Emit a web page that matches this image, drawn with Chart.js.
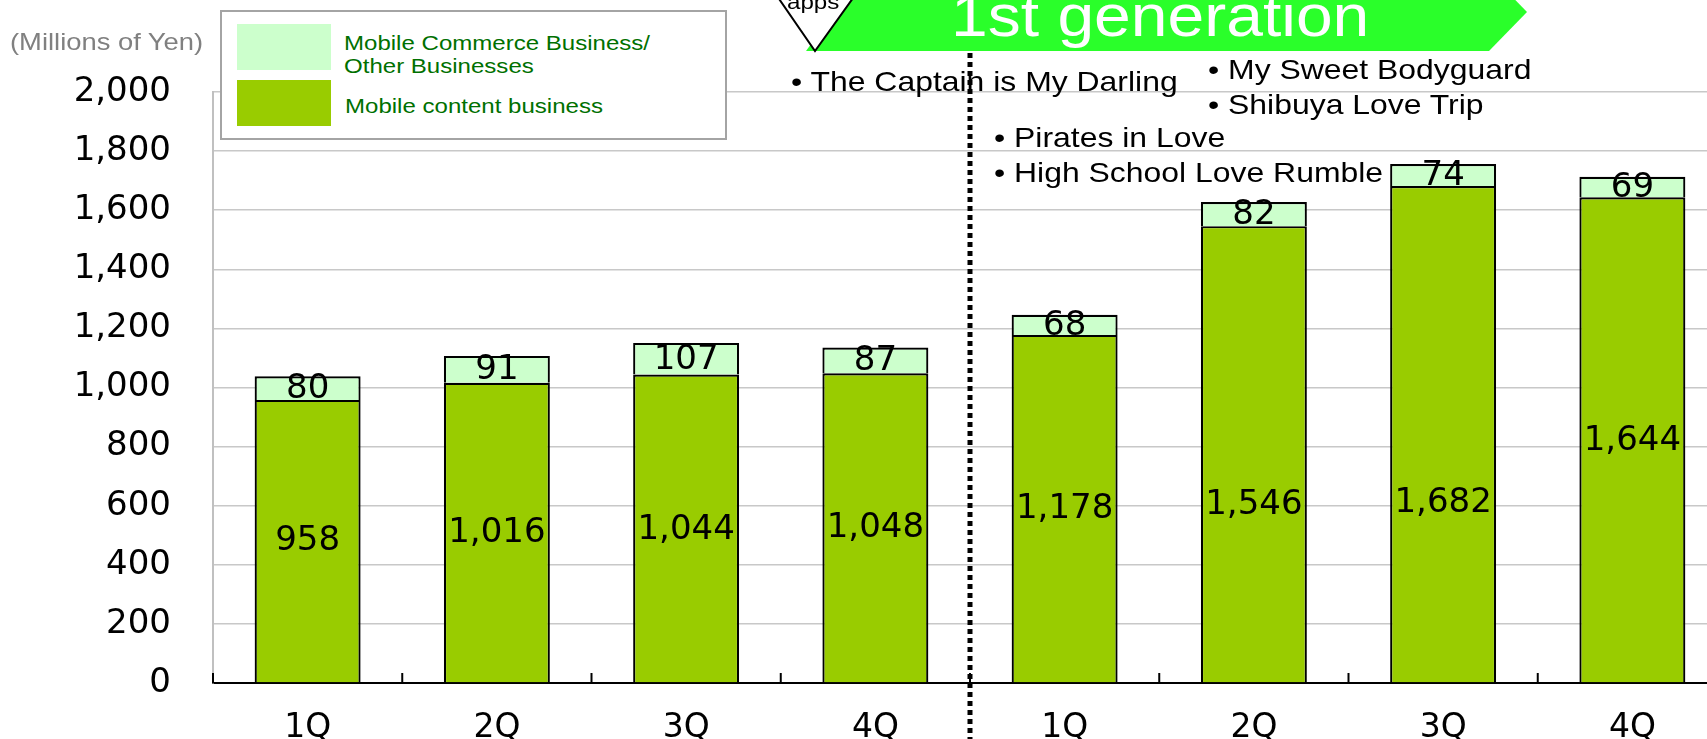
<!DOCTYPE html>
<html><head><meta charset="utf-8">
<script src="https://cdn.jsdelivr.net/npm/chart.js@4.4.0/dist/chart.umd.min.js"></script>
<style>
html,body{margin:0;padding:0;width:1707px;height:739px;overflow:hidden;background:#fff;}
#wrap{position:relative;width:1707px;height:739px;overflow:hidden;}
#c{position:absolute;left:0;top:0;z-index:1;}
#banner{position:absolute;left:0;top:0;z-index:2;}
.t{position:absolute;white-space:nowrap;font-family:'Liberation Sans',Arial,sans-serif;transform-origin:0 0;line-height:1;z-index:5;}
#legend{position:absolute;left:220px;top:10px;width:507px;height:130px;box-sizing:border-box;border:2px solid #a4a4a4;background:#fff;z-index:3;}
.sw{position:absolute;left:15px;width:94px;}
</style></head>
<body><div id="wrap">
<canvas id="c" width="1800" height="739"></canvas>
<svg id="banner" width="1707" height="60" viewBox="0 0 1707 60">
  <polygon points="806,51 862,-26 1490,-26 1527,12 1489,51" fill="#2aff2a"/>
  <polygon points="766,-20 866,-20 815,51" fill="#fff" stroke="#000" stroke-width="2"/>
</svg>
<div class="t" style="left:787px;top:-9px;font-size:21px;color:#000;transform:scaleX(1.15);">apps</div>
<div class="t" style="left:951px;top:-14px;font-size:60px;color:#fff;transform:scaleX(1.1);">1st generation</div>
<div class="t" style="left:10px;top:30px;font-size:24px;color:#808080;transform:scaleX(1.14);">(Millions of Yen)</div>
<div id="legend"></div>
<div class="t" style="left:791px;top:68px;font-size:28px;color:#000;transform:scaleX(1.14);">• The Captain is My Darling</div>
<div class="t" style="left:1208px;top:56px;font-size:28px;color:#000;transform:scaleX(1.14);">• My Sweet Bodyguard</div>
<div class="t" style="left:1208px;top:91px;font-size:28px;color:#000;transform:scaleX(1.14);">• Shibuya Love Trip</div>
<div class="t" style="left:994px;top:124px;font-size:28px;color:#000;transform:scaleX(1.14);">• Pirates in Love</div>
<div class="t" style="left:994px;top:159px;font-size:28px;color:#000;transform:scaleX(1.14);">• High School Love Rumble</div>
</div>
<script>
const categories = ['1Q','2Q','3Q','4Q','1Q','2Q','3Q','4Q'];
const mobileContent = [958,1016,1044,1048,1178,1546,1682,1644];
const mobileCommerce = [80,91,107,87,68,82,74,69];
const yTicks = [0,200,400,600,800,1000,1200,1400,1600,1800,2000];
// value (in yen axis units) at which each mobile-content label sits in the picture
const contentLabelAt = [484,510,521,528,592,606,613,823];
const seriesNames = ['Mobile content business', 'Mobile Commerce Business/\nOther Businesses'];
const seriesColors = ['#99cc00', '#ccffcc'];

Chart.defaults.font.family = "'DejaVu Sans', sans-serif";

(function(){
  const lg = document.getElementById('legend');
  const rows = [
    {name: seriesNames[1], color: seriesColors[1], top: 12, h: 46, textTops: [20, 43], left: 122},
    {name: seriesNames[0], color: seriesColors[0], top: 68, h: 46, textTops: [83], left: 123}
  ];
  rows.forEach(r => {
    const sw = document.createElement('div');
    sw.className = 'sw';
    sw.style.top = r.top + 'px'; sw.style.height = r.h + 'px'; sw.style.background = r.color;
    lg.appendChild(sw);
    r.name.split('\n').forEach((line, i) => {
      const d = document.createElement('div');
      d.className = 't';
      d.textContent = line;
      d.style.left = r.left + 'px';
      d.style.top = r.textTops[i] + 'px';
      d.style.fontSize = '21px';
      d.style.color = '#007000';
      d.style.transform = 'scaleX(1.145)';
      lg.appendChild(d);
    });
  });
})();

const fmt = v => Number(v).toLocaleString('en-US');

const valueLabels = {
  id: 'valueLabels',
  afterDatasetsDraw(chart) {
    const ctx = chart.ctx;
    const ys = chart.scales.y;
    ctx.save();
    ctx.font = "34px 'DejaVu Sans', sans-serif";
    ctx.fillStyle = '#000';
    ctx.textAlign = 'center';
    ctx.textBaseline = 'middle';
    chart.data.datasets.forEach((ds, di) => {
      const meta = chart.getDatasetMeta(di);
      meta.data.forEach((el, i) => {
        const y = di === 0 ? ys.getPixelForValue(contentLabelAt[i]) : (el.y + el.base) / 2;
        ctx.fillText(fmt(ds.data[i]), el.x, y + 1);
      });
    });
    ctx.restore();
  }
};

const axisDecor = {
  id: 'axisDecor',
  afterDraw(chart) {
    const ctx = chart.ctx;
    const xs = chart.scales.x;
    const bottom = chart.chartArea.bottom;
    const w = xs.getPixelForValue(1) - xs.getPixelForValue(0);
    ctx.save();
    ctx.strokeStyle = '#000';
    ctx.lineWidth = 2;
    for (let i = 0; i <= categories.length; i++) {
      const x = xs.getPixelForValue(i) - w / 2;
      ctx.beginPath();
      ctx.moveTo(x, bottom - 10);
      ctx.lineTo(x, bottom);
      ctx.stroke();
    }
    const xd = xs.getPixelForValue(4) - w / 2;
    ctx.lineWidth = 5;
    ctx.setLineDash([5, 4]);
    ctx.beginPath();
    ctx.moveTo(xd, 53);
    ctx.lineTo(xd, chart.height);
    ctx.stroke();
    ctx.restore();
  }
};

new Chart(document.getElementById('c'), {
  type: 'bar',
  data: {
    labels: categories,
    datasets: [
      {label: seriesNames[0], data: mobileContent, backgroundColor: seriesColors[0], borderColor: '#000', borderWidth: 2.2, stack: 's'},
      {label: seriesNames[1], data: mobileCommerce, backgroundColor: seriesColors[1], borderColor: '#000', borderWidth: 2.2, stack: 's'}
    ]
  },
  options: {
    responsive: false,
    animation: false,
    layout: {padding: {left: 0, right: 73, top: 92, bottom: 0}},
    datasets: {bar: {barPercentage: 0.56, categoryPercentage: 1}},
    plugins: {legend: {display: false}, tooltip: {enabled: false}},
    scales: {
      x: {
        stacked: true,
        grid: {drawOnChartArea: false, drawTicks: false},
        border: {display: true, color: '#000', width: 2},
        ticks: {padding: 26, font: {size: 33}, color: '#000', maxRotation: 0, autoSkip: false},
        afterFit(s) { s.height = 56; }
      },
      y: {
        stacked: true,
        min: 0, max: 2000,
        afterBuildTicks(s) { s.ticks = yTicks.map(v => ({value: v})); },
        grid: {color: c => (c.tick && c.tick.value === 0) ? 'rgba(0,0,0,0)' : '#c8c8c8', lineWidth: 1.5, drawTicks: true, tickLength: 38, tickColor: 'rgba(0,0,0,0)'},
        border: {display: true, color: '#c0c0c0', width: 2},
        ticks: {padding: 4, font: {size: 34}, color: '#000', callback: v => fmt(v)},
        afterFit(s) { s.width = 213; }
      }
    }
  },
  plugins: [valueLabels, axisDecor]
});
</script>
</body></html>
